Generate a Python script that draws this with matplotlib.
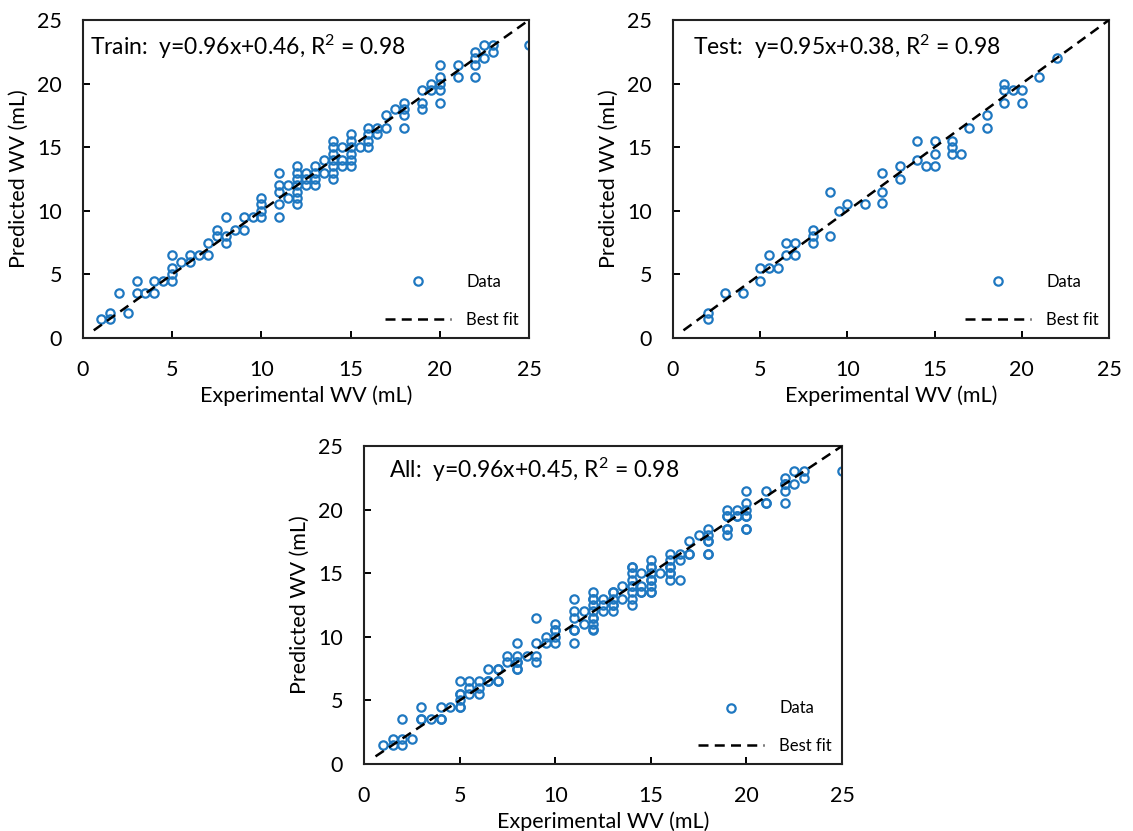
import matplotlib
matplotlib.use("Agg")
import matplotlib.pyplot as plt

plt.rcParams['font.family'] = ['Lato', 'DejaVu Sans']
plt.rcParams['mathtext.fontset'] = 'custom'
plt.rcParams['mathtext.rm'] = 'Lato'
plt.rcParams['mathtext.it'] = 'Lato:italic'
plt.rcParams['mathtext.bf'] = 'Lato:bold'

train_x = [1, 1.5, 1.5, 2, 2.5, 3, 3, 3.5, 4, 4, 4.5, 5, 5, 5, 5, 5.5, 6, 6, 6.5, 7, 7,
           7.5, 7.5, 8, 8, 8, 8.5, 9, 9, 9.5, 10, 10, 10, 10, 11, 11, 11, 11, 11, 11.5, 11.5,
           12, 12, 12, 12, 12, 12, 12, 12.5, 12.5, 12.5, 13, 13, 13, 13, 13.5, 13.5,
           14, 14, 14, 14, 14, 14, 14, 14.5, 14.5, 14.5, 15, 15, 15, 15, 15, 15, 15.5,
           16, 16, 16, 16, 16.5, 16.5, 17, 17, 17.5, 18, 18, 18, 18, 19, 19, 19, 19.5, 19.5,
           20, 20, 20, 20, 20, 21, 21, 22, 22, 22, 22, 22.5, 22.5, 23, 23, 25]
train_y = [1.5, 2, 1.5, 3.5, 2, 4.5, 3.5, 3.5, 3.5, 4.5, 4.5, 5, 4.5, 5.5, 6.5, 6, 6.5, 6, 6.5, 6.5, 7.5,
           8.5, 8, 8, 7.5, 9.5, 8.5, 8.5, 9.5, 9.5, 9.5, 10, 10.5, 11, 9.5, 10.5, 11.5, 12, 13, 12, 11,
           13.5, 13, 12.5, 12, 11.5, 11, 10.5, 13, 12.5, 12, 13.5, 13, 12.5, 12, 14, 13,
           15.5, 15, 14.5, 14, 13.5, 13, 12.5, 15, 14, 13.5, 16, 15.5, 15, 14.5, 14, 13.5, 15,
           16.5, 16, 15.5, 15, 16.5, 16, 16.5, 17.5, 18, 18.5, 18, 17.5, 16.5, 19.5, 18.5, 18, 20, 19.5,
           21.5, 20.5, 20, 19.5, 18.5, 21.5, 20.5, 22.5, 22, 21.5, 20.5, 23, 22, 23, 22.5, 23]

test_x = [2, 2, 3, 4, 5, 5, 5.5, 5.5, 6, 6.5, 6.5, 7, 7, 8, 8, 8, 9, 9, 9.5, 10, 11,
          12, 12, 12, 13, 13, 14, 14, 14.5, 15, 15, 15, 16, 16, 16, 16.5, 17, 18, 18,
          19, 19, 19, 19.5, 20, 20, 21, 22]
test_y = [2, 1.5, 3.5, 3.5, 4.5, 5.5, 6.5, 5.5, 5.5, 7.5, 6.5, 7.5, 6.5, 8.5, 8, 7.5, 11.5, 8, 10, 10.5, 10.5,
          13, 11.5, 10.6, 13.5, 12.5, 15.5, 14, 13.5, 15.5, 14.5, 13.5, 15.5, 15, 14.5, 14.5, 16.5, 17.5, 16.5,
          20, 19.5, 18.5, 19.5, 19.5, 18.5, 20.5, 22]

all_x = train_x + test_x
all_y = train_y + test_y

labels = ["Train:  y=0.96x+0.46, R$^2$ = 0.98",
          "Test:  y=0.95x+0.38, R$^2$ = 0.98",
          "All:  y=0.96x+0.45, R$^2$ = 0.98"]
fit_x = [0.6, 25]
ticks = [0, 5, 10, 15, 20, 25]

BLUE = '#1f78c1'

fig = plt.figure(figsize=(11.33, 8.31), dpi=100)
rects = [[0.0733, 0.5933, 0.3936, 0.3826],
         [0.5940, 0.5933, 0.3848, 0.3826],
         [0.3213, 0.0806, 0.4219, 0.3827]]
datasets = [(train_x, train_y), (test_x, test_y), (all_x, all_y)]
text_pos = [(0.016, 0.915), (0.046, 0.915), (0.052, 0.925)]

for rect, (xs, ys), lab, tp in zip(rects, datasets, labels, text_pos):
    ax = fig.add_axes(rect)
    ax.plot(xs, ys, linestyle='none', marker='o', markersize=6, markerfacecolor='none',
            markeredgecolor=BLUE, markeredgewidth=1.6, label='Data', zorder=2)
    ax.plot(fit_x, fit_x, color='black', linestyle=(0, (4, 2.5)), linewidth=1.8,
            label='Best fit', zorder=3)
    ax.set_xlim(0, 25)
    ax.set_ylim(0, 25)
    ax.set_xticks(ticks)
    ax.set_yticks(ticks)
    ax.tick_params(direction='in', length=5, width=1.4, labelsize=15.5, top=False, right=False)
    ax.tick_params(axis='x', pad=16)
    ax.tick_params(axis='y', pad=15)
    for s in ax.spines.values():
        s.set_linewidth(1.5)
        s.set_color('#222222')
    ax.set_xlabel('Experimental WV (mL)', fontsize=15.5, labelpad=4)
    ax.set_ylabel('Predicted WV (mL)', fontsize=15.5, labelpad=6)
    ax.text(tp[0], tp[1], lab, transform=ax.transAxes, fontsize=16.5, va='center', ha='left')
    ax.legend(loc='lower right', frameon=False, fontsize=12, handlelength=4.0,
              labelspacing=1.3, handletextpad=0.9, borderaxespad=0.2)

fig.savefig('out.png', dpi=100)
